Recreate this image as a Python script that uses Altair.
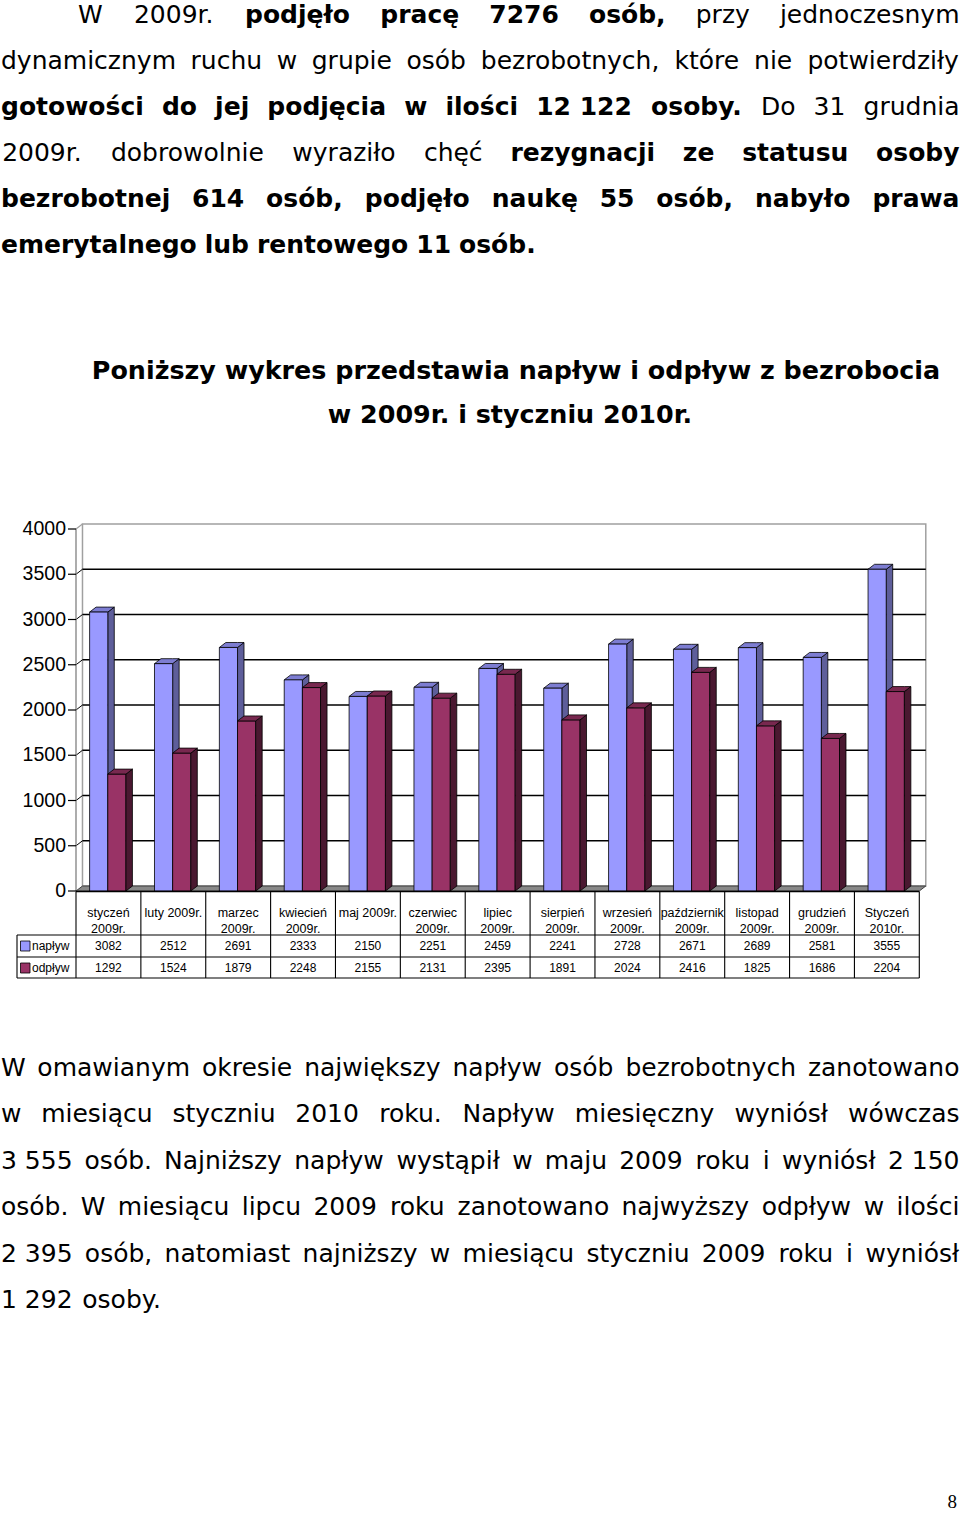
import altair as alt
import pandas as pd

# ---------------- data ----------------
months = ["styczeń\n2009r.", "luty 2009r.", "marzec\n2009r.", "kwiecień\n2009r.",
          "maj 2009r.", "czerwiec\n2009r.", "lipiec\n2009r.", "sierpień\n2009r.",
          "wrzesień\n2009r.", "październik\n2009r.", "listopad\n2009r.",
          "grudzień\n2009r.", "Styczeń\n2010r."]
naplyw = [3082, 2512, 2691, 2333, 2150, 2251, 2459, 2241, 2728, 2671, 2689, 2581, 3555]
odplyw = [1292, 1524, 1879, 2248, 2155, 2131, 2395, 1891, 2024, 2416, 1825, 1686, 2204]
series_names = ["napływ", "odpływ"]
y_ticks = [0, 500, 1000, 1500, 2000, 2500, 3000, 3500, 4000]

# '*' marks a bold word, '~' a non-breaking space
top_par = [
    "W 2009r. *podjęło *pracę *7276 *osób, przy jednoczesnym",
    "dynamicznym ruchu w grupie osób bezrobotnych, które nie potwierdziły",
    "*gotowości *do *jej *podjęcia *w *ilości *12~122 *osoby. Do 31 grudnia",
    "2009r. dobrowolnie wyraziło chęć *rezygnacji *ze *statusu *osoby",
    "*bezrobotnej *614 *osób, *podjęło *naukę *55 *osób, *nabyło *prawa",
    "*emerytalnego *lub *rentowego *11 *osób.",
]
title_lines = ["Poniższy wykres przedstawia napływ i odpływ z bezrobocia",
               "w 2009r. i styczniu 2010r."]
bottom_par = [
    "W omawianym okresie największy napływ osób bezrobotnych zanotowano",
    "w miesiącu styczniu 2010 roku. Napływ miesięczny wyniósł wówczas",
    "3~555 osób. Najniższy napływ wystąpił w maju 2009 roku i wyniósł 2~150",
    "osób. W miesiącu lipcu 2009 roku zanotowano najwyższy odpływ w ilości",
    "2~395 osób, natomiast najniższy w miesiącu styczniu 2009 roku i wyniósł",
    "1~292 osoby.",
]
page_number = "8"

# ---------------- styling / geometry ----------------
N = len(months)
X0, X1 = 76.0, 919.3          # pixel range of the category axis
YB, YT = 891.0, 529.0         # pixel range of the value axis (0 .. 4000)
DX = 0.1                      # 3D depth (category units)
DY = 55.0                     # 3D depth (value units)
BAR_W = 0.28
BAR_START = {"napływ": 0.21, "odpływ": 0.49}
COLORS = {
    "napływ": {"front": "#9999FF", "side": "#5E5E9A", "top": "#7D7DD2"},
    "odpływ": {"front": "#993366", "side": "#4A1830", "top": "#78284F"},
}
FS = 25
BODY_FONT = "DejaVu Sans"
CHART_FONT = "Liberation Sans"

xs = alt.Scale(domain=[0, N], range=[X0, X1], nice=False, zero=False)
ys = alt.Scale(domain=[0, 4000], range=[YB, YT], nice=False, zero=False)

# ---------------- approximate glyph widths (DejaVu Sans, units/2048) ----------------
NORMAL_W = dict(zip("abcdefghijklmnopqrstuvwxyz",
                    [1255, 1300, 1126, 1300, 1260, 721, 1300, 1298, 569, 569, 1186, 569, 1995,
                     1298, 1253, 1300, 1300, 842, 1067, 803, 1298, 1212, 1675, 1212, 1212, 1075]))
NORMAL_W.update({"ą": 1255, "ć": 1126, "ę": 1260, "ł": 650, "ń": 1298, "ó": 1253, "ś": 1067,
                 "ź": 1075, "ż": 1075, " ": 651, "~": 651, ".": 651, ",": 651,
                 "W": 2025, "D": 1577, "N": 1532, "P": 1235, "S": 1300})
BOLD_W = dict(zip("abcdefghijklmnopqrstuvwxyz",
                  [1382, 1466, 1214, 1466, 1389, 891, 1466, 1458, 702, 702, 1362, 702, 2134,
                   1458, 1407, 1466, 1466, 1010, 1219, 979, 1458, 1331, 1898, 1331, 1331, 1192]))
BOLD_W.update({"ą": 1382, "ć": 1214, "ę": 1389, "ł": 800, "ń": 1458, "ó": 1407, "ś": 1219,
               "ź": 1192, "ż": 1192, " ": 713, "~": 713, ".": 780, ",": 780,
               "W": 2108, "D": 1700, "N": 1712, "P": 1540, "S": 1480})
for d in "0123456789":
    NORMAL_W[d] = 1303
    BOLD_W[d] = 1425


def word_width(w, bold):
    table = BOLD_W if bold else NORMAL_W
    return sum(table.get(c, 1300) for c in w) / 2048.0 * FS


def layout(lines, baselines, left_first, left, right):
    out = []
    for k, (line, yb) in enumerate(zip(lines, baselines)):
        toks = [(t[1:], True) if t.startswith("*") else (t, False) for t in line.split(" ")]
        widths = [word_width(t, b) for t, b in toks]
        lx = left_first if k == 0 else left
        last = k == len(lines) - 1
        if not last and len(toks) > 1:
            gap = (right - lx - sum(widths)) / (len(toks) - 1)
        else:
            gap = 651 / 2048.0 * FS
        x = lx
        for (t, b), wd in zip(toks, widths):
            out.append(dict(x=x + wd / 2, y=yb, t=t.replace("~", "\u00a0"), bold=b))
            x += wd + gap
    return out


words = layout(top_par, [23 + 46 * k for k in range(6)], 78, 1, 959.5)
words += layout(bottom_par, [1076 + 46.4 * k for k in range(6)], 1, 1, 959.5)
words_df = pd.DataFrame(words)
title_df = pd.DataFrame([dict(x=516, y=379, t=title_lines[0]),
                         dict(x=510, y=423, t=title_lines[1])])

# ---------------- 3D bar geometry (data units) ----------------
front_rows, side_rows, top_rows = [], [], []
for s, vals in zip(series_names, [naplyw, odplyw]):
    for i, v in enumerate(vals):
        x0 = i + BAR_START[s]
        x1 = x0 + BAR_W
        bid = f"{s}-{i}"
        front_rows.append(dict(series=s, x0=x0, x1=x1, v=v, base=0))
        side_rows += [dict(series=s, bar=bid, px=x1, lo=0, hi=v),
                      dict(series=s, bar=bid, px=x1 + DX, lo=DY, hi=v + DY)]
        top_rows += [dict(series=s, bar=bid, px=x0, lo=v, hi=v),
                     dict(series=s, bar=bid, px=x0 + DX, lo=v, hi=v + DY),
                     dict(series=s, bar=bid, px=x1, lo=v, hi=v + DY),
                     dict(series=s, bar=bid, px=x1 + DX, lo=v + DY, hi=v + DY)]
front_df = pd.DataFrame(front_rows)
side_df = pd.DataFrame(side_rows)
top_df = pd.DataFrame(top_rows)


def area(df, fill, stroke="black", sw=0.8):
    return alt.Chart(df).mark_area(orient="vertical", fill=fill, stroke=stroke, strokeWidth=sw,
                                   strokeJoin="round", interpolate="linear").encode(
        x=alt.X("px:Q", scale=xs, axis=None),
        y=alt.Y("hi:Q", scale=ys, axis=None, stack=None),
        y2="lo",
        detail="bar:N",
    )


layers = []

# back wall
wall_df = pd.DataFrame([dict(a=DX, b=N + DX, lo=DY, hi=4000 + DY)])
layers.append(alt.Chart(wall_df).mark_rect(fill="white", stroke="#A0A0A0", strokeWidth=1.5).encode(
    x=alt.X("a:Q", scale=xs, axis=None), x2="b",
    y=alt.Y("hi:Q", scale=ys, axis=None), y2="lo"))

# gridlines (back wall + side wall diagonal)
grid_df = pd.DataFrame([dict(v=v, vb=v + DY, a=DX, b=N + DX, z=0) for v in y_ticks if 0 < v < 4000])
layers.append(alt.Chart(grid_df).mark_rule(color="black", strokeWidth=1.4).encode(
    x=alt.X("a:Q", scale=xs, axis=None), x2="b",
    y=alt.Y("vb:Q", scale=ys, axis=None), y2="vb"))
layers.append(alt.Chart(grid_df).mark_rule(color="black", strokeWidth=1.0).encode(
    x=alt.X("z:Q", scale=xs, axis=None), x2="a",
    y=alt.Y("v:Q", scale=ys, axis=None), y2="vb"))

# side wall edges
edge_df = pd.DataFrame([dict(z=0, a=DX, lo=0, hi=4000, hb=4000 + DY)])
layers.append(alt.Chart(edge_df).mark_rule(color="#808080", strokeWidth=1.3).encode(
    x=alt.X("z:Q", scale=xs, axis=None),
    y=alt.Y("lo:Q", scale=ys, axis=None), y2="hi"))
layers.append(alt.Chart(edge_df).mark_rule(color="#A0A0A0", strokeWidth=1.2).encode(
    x=alt.X("z:Q", scale=xs, axis=None), x2="a",
    y=alt.Y("hi:Q", scale=ys, axis=None), y2="hb"))

# floor
floor_df = pd.DataFrame([dict(bar="floor", px=0, lo=0, hi=0),
                         dict(bar="floor", px=DX, lo=0, hi=DY),
                         dict(bar="floor", px=N, lo=0, hi=DY),
                         dict(bar="floor", px=N + DX, lo=DY, hi=DY)])
layers.append(area(floor_df, "#888888", stroke="#404040", sw=1.0))

# bars
for s in series_names:
    c = COLORS[s]
    sdf = side_df[side_df.series == s]
    tdf = top_df[top_df.series == s]
    fdf = front_df[front_df.series == s]
    front = alt.Chart(fdf).mark_rect(fill=c["front"], stroke="black", strokeWidth=0.8).encode(
        x=alt.X("x0:Q", scale=xs, axis=None), x2="x1",
        y=alt.Y("v:Q", scale=ys, axis=None), y2="base")
    if s == "napływ":
        layers += [area(sdf, c["side"]), area(tdf, c["top"]), front]
    else:
        layers += [front, area(sdf, c["side"]), area(tdf, c["top"])]

# y axis ticks and labels
tick_df = pd.DataFrame(dict(v=y_ticks, lab=[str(v) for v in y_ticks]))
layers.append(alt.Chart(tick_df).mark_rule(color="black", strokeWidth=1.2).encode(
    x=alt.value(68), x2=alt.value(X0), y=alt.Y("v:Q", scale=ys, axis=None)))
layers.append(alt.Chart(tick_df).mark_text(align="right", baseline="middle", font=CHART_FONT,
                                           fontSize=19.5, color="black").encode(
    x=alt.value(66), y=alt.Y("v:Q", scale=ys, axis=None), text="lab:N"))

# ---------------- data table ----------------
TB_TOP, ROW1, ROW2, TB_BOT, LEG_L = 891.5, 935, 957, 978, 17
vl_df = pd.DataFrame(dict(b=list(range(N + 1))))
layers.append(alt.Chart(vl_df).mark_rule(color="black", strokeWidth=1.1).encode(
    x=alt.X("b:Q", scale=xs, axis=None), y=alt.value(TB_TOP), y2=alt.value(TB_BOT)))
hl_df = pd.DataFrame(dict(yy=[ROW1, ROW2, TB_BOT]))
layers.append(alt.Chart(hl_df).mark_rule(color="black", strokeWidth=1.1).encode(
    x=alt.value(LEG_L), x2=alt.value(X1), y=alt.Y("yy:Q", scale=None, axis=None)))
layers.append(alt.Chart(vl_df.head(1)).mark_rule(color="black", strokeWidth=1.1).encode(
    x=alt.value(LEG_L), y=alt.value(ROW1), y2=alt.value(TB_BOT)))
layers.append(alt.Chart(vl_df.head(1)).mark_rule(color="black", strokeWidth=1.4).encode(
    x=alt.value(X0), x2=alt.value(X1), y=alt.value(TB_TOP)))

cat_df = pd.DataFrame(dict(xc=[i + 0.5 for i in range(N)], lab=months))
layers.append(alt.Chart(cat_df).mark_text(align="center", baseline="middle", font=CHART_FONT,
                                          fontSize=12.5, lineBreak="\n", lineHeight=16,
                                          color="black").encode(
    x=alt.X("xc:Q", scale=xs, axis=None), y=alt.value(912.5), text="lab:N"))

for s, vals, yc, ya in zip(series_names, [naplyw, odplyw], [946, 967.5], [941, 963]):
    vdf = pd.DataFrame(dict(xc=[i + 0.5 for i in range(N)], lab=[str(v) for v in vals]))
    layers.append(alt.Chart(vdf).mark_text(align="center", baseline="middle", font=CHART_FONT,
                                           fontSize=12, color="black").encode(
        x=alt.X("xc:Q", scale=xs, axis=None), y=alt.value(yc), text="lab:N"))
    ldf = pd.DataFrame(dict(lab=[s]))
    layers.append(alt.Chart(ldf).mark_rect(fill=COLORS[s]["front"], stroke="black",
                                           strokeWidth=0.8).encode(
        x=alt.value(20.5), x2=alt.value(30), y=alt.value(ya), y2=alt.value(ya + 10)))
    layers.append(alt.Chart(ldf).mark_text(align="left", baseline="middle", font=CHART_FONT,
                                           fontSize=12, color="black").encode(
        x=alt.value(32), y=alt.value(yc), text="lab:N"))

# ---------------- body text ----------------
for bold in (False, True):
    wdf = words_df[words_df.bold == bold]
    layers.append(alt.Chart(wdf).mark_text(align="center", baseline="alphabetic", font=BODY_FONT,
                                           fontSize=FS, fontWeight="bold" if bold else "normal",
                                           color="black").encode(
        x=alt.X("x:Q", scale=None, axis=None), y=alt.Y("y:Q", scale=None, axis=None), text="t:N"))

layers.append(alt.Chart(title_df).mark_text(align="center", baseline="alphabetic", font=BODY_FONT,
                                            fontSize=25.4, fontWeight="bold", color="black").encode(
    x=alt.X("x:Q", scale=None, axis=None), y=alt.Y("y:Q", scale=None, axis=None), text="t:N"))

pn_df = pd.DataFrame(dict(lab=[page_number]))
layers.append(alt.Chart(pn_df).mark_text(align="right", baseline="alphabetic",
                                         font="Liberation Serif", fontSize=19, color="black").encode(
    x=alt.value(957), y=alt.value(1508), text="lab:N"))

chart = alt.layer(*layers).resolve_scale(x="independent", y="independent").properties(
    width=960, height=1513, autosize=alt.AutoSizeParams(type="none"), padding=0,
    background="white").configure_view(strokeWidth=0)

chart.save("out.html", embed_options={"renderer": "svg", "actions": False})
